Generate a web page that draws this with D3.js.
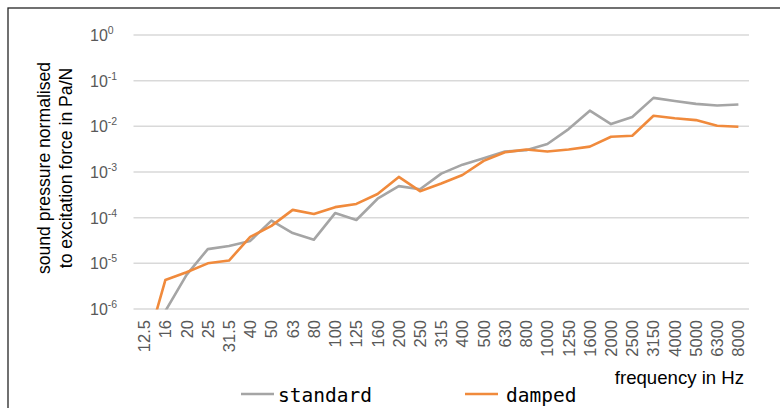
<!DOCTYPE html>
<html>
<head>
<meta charset="utf-8">
<script src="https://cdn.jsdelivr.net/npm/d3@7"></script>
<style>
  body { margin: 0; background: #fff; }
  svg { display: block; }
</style>
</head>
<body>
<svg id="chart" width="780" height="408"></svg>
<script>
// third-octave band centres in Hz
const bands = ["12.5", "16", "20", "25", "31.5", "40", "50", "63", "80", "100", "125", "160", "200", "250",
  "315", "400", "500", "630", "800", "1000", "1250", "1600", "2000", "2500", "3150", "4000", "5000", "6300", "8000"];

// Pa/N
const standard = [1e-8, 9e-7, 5.6e-6, 2.05e-5, 2.4e-5, 3.1e-5, 8.6e-5, 4.6e-5, 3.3e-5, 1.26e-4, 8.9e-5, 2.6e-4, 4.9e-4, 4.2e-4,
  9.2e-4, 1.45e-3, 2e-3, 2.8e-3, 3e-3, 4.1e-3, 8.7e-3, 2.2e-2, 1.12e-2, 1.6e-2, 4.2e-2, 3.6e-2, 3.1e-2, 2.85e-2, 3e-2];
const damped = [1e-7, 4.3e-6, 6.4e-6, 1e-5, 1.15e-5, 3.8e-5, 6.6e-5, 1.48e-4, 1.2e-4, 1.7e-4, 2e-4, 3.3e-4, 7.8e-4, 3.8e-4,
  5.6e-4, 8.6e-4, 1.75e-3, 2.7e-3, 3.1e-3, 2.8e-3, 3.1e-3, 3.6e-3, 5.9e-3, 6.2e-3, 1.7e-2, 1.5e-2, 1.37e-2, 1.03e-2, 9.8e-3];

const yExponents = [0, -1, -2, -3, -4, -5, -6];

const series = [
  {name: "standard", values: standard, color: "#a5a5a5"},
  {name: "damped", values: damped, color: "#f08a3c"}
];

const svg = d3.select("#chart");

// outer frame, runs off the right and bottom edges
svg.append("rect")
  .attr("x", 8).attr("y", 8).attr("width", 820).attr("height", 500)
  .attr("fill", "none").attr("stroke", "#262626").attr("stroke-width", 1.3);

const x = d3.scaleBand().domain(bands).range([133.5, 749]).padding(0);
const y = d3.scaleLog().domain([1e-6, 1]).range([309, 35]);

// gridlines
svg.append("g").selectAll("line")
  .data(yExponents)
  .join("line")
  .attr("x1", 133.5).attr("x2", 749)
  .attr("y1", d => y(Math.pow(10, d))).attr("y2", d => y(Math.pow(10, d)))
  .attr("stroke", "#d9d9d9").attr("stroke-width", 1.5);

// y tick labels 10^n
const yl = svg.append("g").selectAll("text")
  .data(yExponents)
  .join("text")
  .attr("x", 90)
  .attr("y", d => y(Math.pow(10, d)) + 6)
  .attr("font-family", "Liberation Sans, Arial, sans-serif")
  .attr("font-size", 16)
  .attr("fill", "#595959");
yl.append("tspan").text("10");
yl.append("tspan").attr("dy", -7).attr("font-size", 10.5).text(d => d);

// x tick labels, rotated
svg.append("g").selectAll("text")
  .data(bands)
  .join("text")
  .attr("transform", d => "translate(" + (x(d) + x.bandwidth() / 2) + ",320) rotate(-90)")
  .attr("text-anchor", "end")
  .attr("dy", "0.36em")
  .attr("font-family", "Liberation Sans, Arial, sans-serif")
  .attr("font-size", 16.5)
  .attr("fill", "#595959")
  .text(d => d);

// lines, clipped to the plot area
svg.append("clipPath").attr("id", "plotclip")
  .append("rect").attr("x", 120).attr("y", 30).attr("width", 640).attr("height", 279.5);

const line = d3.line()
  .x((d, i) => x(bands[i]) + x.bandwidth() / 2)
  .y(d => y(d));

svg.append("g").attr("clip-path", "url(#plotclip)")
  .selectAll("path")
  .data(series)
  .join("path")
  .attr("fill", "none")
  .attr("stroke", d => d.color)
  .attr("stroke-width", 2.6)
  .attr("stroke-linejoin", "round")
  .attr("d", d => line(d.values));

// axis titles
const yt = svg.append("text")
  .attr("transform", "translate(50,168) rotate(-90)")
  .attr("text-anchor", "middle")
  .attr("font-family", "Liberation Sans, Arial, sans-serif")
  .attr("font-size", 17.6)
  .attr("fill", "#000");
yt.append("tspan").attr("x", 0).attr("dy", 0).text("sound pressure normalised");
yt.append("tspan").attr("x", 0).attr("dy", 21.5).text("to excitation force in Pa/N");

svg.append("text")
  .attr("x", 744).attr("y", 384)
  .attr("text-anchor", "end")
  .attr("font-family", "Liberation Sans, Arial, sans-serif")
  .attr("font-size", 18.6)
  .attr("fill", "#000")
  .text("frequency in Hz");

// legend
const legendX = [241, 465];
const lg = svg.append("g").selectAll("g")
  .data(series)
  .join("g")
  .attr("transform", (d, i) => "translate(" + legendX[i] + ",394)");
lg.append("line")
  .attr("x1", 0).attr("x2", 33)
  .attr("stroke", d => d.color).attr("stroke-width", 2.6);
lg.append("text")
  .attr("x", (d, i) => i === 0 ? 37 : 41)
  .attr("y", 7.5)
  .attr("font-family", "DejaVu Sans Mono, monospace")
  .attr("font-size", 19.5)
  .attr("fill", "#000")
  .text(d => d.name);
</script>
</body>
</html>
